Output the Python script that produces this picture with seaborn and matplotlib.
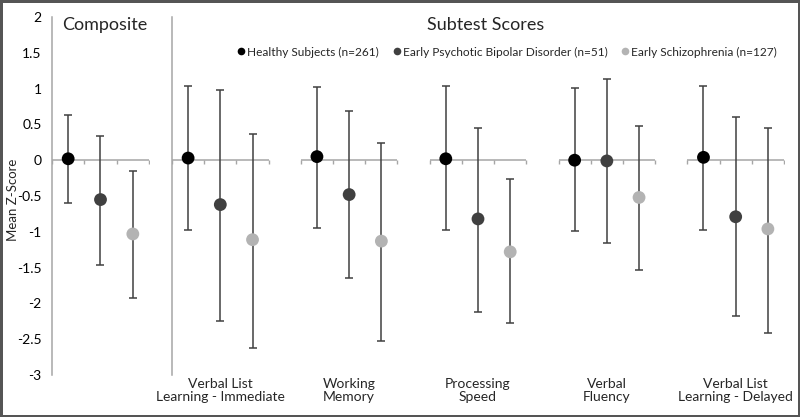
import matplotlib
matplotlib.use("Agg")
import matplotlib.pyplot as plt
import matplotlib.transforms as mtransforms
import seaborn as sns
import pandas as pd
import numpy as np

# ---------------- data ----------------
groups = ["Healthy Subjects (n=261)",
          "Early Psychotic Bipolar Disorder (n=51)",
          "Early Schizophrenia (n=127)"]
colors = ["#000000", "#404040", "#b3b3b3"]

composite_mean = [0.02, -0.55, -1.03]
composite_hi = [0.63, 0.34, -0.15]
composite_lo = [-0.60, -1.47, -1.92]

subtests = ["Verbal List\nLearning - Immediate", "Working\nMemory",
            "Processing\nSpeed", "Verbal\nFluency",
            "Verbal List\nLearning - Delayed"]

healthy_mean = [0.03, 0.05, 0.02, 0.00, 0.04]
healthy_hi = [1.03, 1.02, 1.03, 1.01, 1.04]
healthy_lo = [-0.98, -0.95, -0.98, -0.99, -0.97]

bipolar_mean = [-0.62, -0.48, -0.82, -0.01, -0.79]
bipolar_hi = [0.98, 0.69, 0.45, 1.13, 0.60]
bipolar_lo = [-2.24, -1.64, -2.12, -1.15, -2.18]

schizo_mean = [-1.11, -1.13, -1.28, -0.52, -0.96]
schizo_hi = [0.37, 0.24, -0.26, 0.48, 0.45]
schizo_lo = [-2.62, -2.52, -2.28, -1.54, -2.41]

yticks = [2, 1.5, 1, 0.5, 0, -0.5, -1, -1.5, -2, -2.5, -3]

# ---------------- style ----------------
sns.set_theme(style="white")
plt.rcParams["font.family"] = ["Lato", "DejaVu Sans"]

axis_gray = "#a6a6a6"
bar_gray = "#404040"

fig = plt.figure(figsize=(8, 4.17), dpi=100, linewidth=2.5, edgecolor="#555555")

bottom = (417 - 375) / 417
height = (375 - 17) / 417
ax_c = fig.add_axes([52 / 800, bottom, 97 / 800, height])
ax_s = fig.add_axes([172 / 800, bottom, 612 / 800, height])

# composite data frame
comp_df = pd.DataFrame({"group": groups, "x": [0, 1, 2], "mean": composite_mean,
                        "lo": composite_lo, "hi": composite_hi})

# subtests data frame
rows = []
for gi, (g, m, lo, hi) in enumerate(zip(groups,
                                        [healthy_mean, bipolar_mean, schizo_mean],
                                        [healthy_lo, bipolar_lo, schizo_lo],
                                        [healthy_hi, bipolar_hi, schizo_hi])):
    for ti, t in enumerate(subtests):
        rows.append({"group": g, "test": t, "x": 4 * ti + gi,
                     "mean": m[ti], "lo": lo[ti], "hi": hi[ti]})
sub_df = pd.DataFrame(rows)

palette = dict(zip(groups, colors))

for ax, df in [(ax_c, comp_df), (ax_s, sub_df)]:
    # zero line segments with tick marks
    if ax is ax_c:
        segs = [(-0.5, 2.5)]
    else:
        segs = [(4 * i - 0.5, 4 * i + 2.5) for i in range(len(subtests))]
    for a, b in segs:
        ax.hlines(0, a, b, color=axis_gray, lw=1.1, zorder=1)
        ax.plot(np.arange(a, b + 0.01, 1.0), np.zeros(4), linestyle="none",
                marker=3, markersize=3, color=axis_gray, mew=1.0, zorder=1)
    # error bars
    ax.errorbar(df["x"], df["mean"],
                yerr=[df["mean"] - df["lo"], df["hi"] - df["mean"]],
                fmt="none", ecolor=bar_gray, elinewidth=1.1, capsize=2.8,
                capthick=1.1, zorder=2)
    sns.scatterplot(data=df, x="x", y="mean", hue="group", palette=palette,
                    s=85, edgecolor="none", legend=False, ax=ax, zorder=3)
    ax.set_ylim(-3, 2)
    ax.set_yticks(yticks)
    for s in ["top", "right", "bottom"]:
        ax.spines[s].set_visible(False)
    ax.spines["left"].set_color(axis_gray)
    ax.spines["left"].set_linewidth(1.1)
    ax.tick_params(axis="y", direction="in", length=3, width=1.0,
                   color=axis_gray, labelsize=10, pad=7.5, labelcolor="#000000")
    ax.set_xticks([])
    ax.set_xlabel("")
    ax.set_ylabel("")
    ax.set_facecolor("none")

ax_c.set_xlim(-0.5, 2.5)
ax_c.set_yticklabels([f"{v:g}" for v in yticks])
ax_s.set_xlim(-0.5, 4 * len(subtests) - 1.5)
ax_s.set_yticklabels([])

# x labels for subtests
trans = mtransforms.blended_transform_factory(ax_s.transData, ax_s.transAxes)
for ti, t in enumerate(subtests):
    ax_s.text(4 * ti + 1, -0.008, t, transform=trans, ha="center", va="top",
              fontsize=10, linespacing=1.12)

# titles
fig.text(105 / 800, 1 - 25 / 417, "Composite", ha="center", va="center", fontsize=13)
fig.text(486 / 800, 1 - 25 / 417, "Subtest Scores", ha="center", va="center", fontsize=13)
fig.text(13 / 800, 1 - 200 / 417, "Mean Z-Score", rotation=90, ha="center",
         va="center", fontsize=9.5)

# legend
handles = [plt.Line2D([], [], linestyle="none", marker="o", markersize=5.5,
                      color=c, markeredgewidth=0) for c in colors]
fig.legend(handles, groups, loc="center", bbox_to_anchor=(506 / 800, 1 - 52 / 417),
           ncol=3, frameon=False, fontsize=8.6, handletextpad=0.0,
           columnspacing=1.0, handlelength=1.0)

fig.savefig("out.png", dpi=100, edgecolor=fig.get_edgecolor())
